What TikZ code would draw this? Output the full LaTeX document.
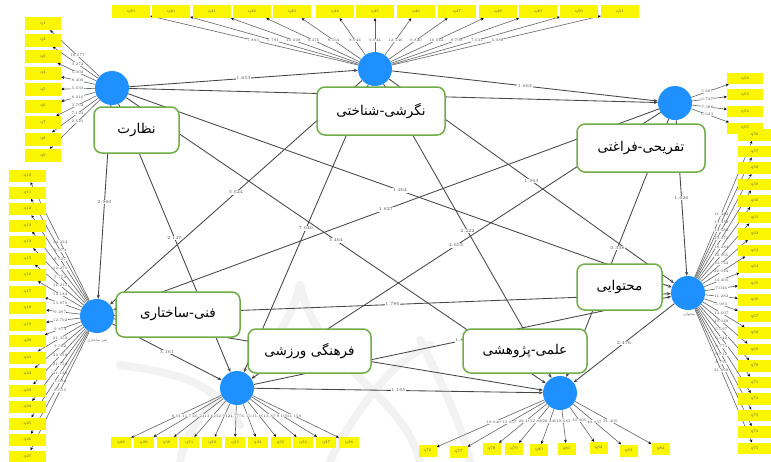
\documentclass[tikz,border=0pt]{standalone}
\usepackage{fontspec}
\newfontfamily\arabicfont[Script=Arabic]{DejaVu Sans}
\TeXXeTstate=1
\usetikzlibrary{arrows.meta}
\definecolor{lvblue}{RGB}{30,144,255}
\definecolor{lgreen}{RGB}{112,173,71}
\definecolor{indy}{RGB}{250,245,0}
\definecolor{pathgray}{RGB}{70,70,70}
\definecolor{linegray}{RGB}{100,100,100}
\pgfdeclarelayer{wm}
\pgfdeclarelayer{lines}
\pgfsetlayers{wm,lines,main}
\begin{document}
\begin{tikzpicture}[x=1pt,y=-1pt,
  lv/.style={circle,fill=lvblue,minimum size=34pt,inner sep=0pt},
  lblbox/.style={draw=lgreen,line width=1.5pt,rounded corners=8pt,fill=white,inner sep=0pt,font=\arabicfont\fontsize{13.5}{15}\selectfont},
  ind/.style={fill=indy,inner sep=0pt,font=\fontsize{3.8}{4}\selectfont,text=black!65},
  sp/.style={draw=pathgray,line width=0.85pt,-{Stealth[length=4pt,width=3.2pt]}},
  il/.style={draw=linegray,line width=0.6pt,-{Stealth[length=3pt,width=2.8pt,color=black]}},
  num/.style={fill=white,inner sep=0.3pt,font=\fontsize{3.8}{4.2}\selectfont,text=black!70},
  snum/.style={fill=white,inner sep=0.6pt,font=\fontsize{4.5}{5}\selectfont,text=black!70},
  tiny/.style={font=\arabicfont\fontsize{3.5}{4}\selectfont,text=black!60,inner sep=0pt},
  wmst/.style={draw=black!5,line width=8pt,line cap=round}
]
\useasboundingbox (0,0) rectangle (771,461);

% background and watermark
\begin{pgfonlayer}{wm}
\fill[white] (0,0) rectangle (771,461);
\draw[wmst] (180,461) .. controls (195,390) and (280,370) .. (300,285);
\draw[wmst] (300,285) .. controls (320,370) and (400,390) .. (420,461);
\draw[wmst] (120,365) .. controls (170,372) and (215,380) .. (240,425);
\draw[wmst] (420,340) .. controls (440,380) and (460,420) .. (470,461);
\draw[wmst] (330,461) .. controls (350,420) and (390,360) .. (430,345);
\end{pgfonlayer}

% latent variables
\node[lv] (A) at (112,88) {};
\node[lv] (B) at (375,69) {};
\node[lv] (C) at (675,103) {};
\node[lv] (D) at (97,316) {};
\node[lv] (E) at (688,293) {};
\node[lv] (F) at (237,388) {};
\node[lv] (G) at (560,393) {};

\node[tiny] (Dn) at (97,341) {\beginR فنی ساختاری\endR};
\node[tiny] (En) at (689,315) {\beginR محتوایی\endR};

% label boxes
\node[lblbox,minimum width=85pt,minimum height=46pt] (L1) at (136.5,130) {\beginR نظارت\endR};
\node[lblbox,minimum width=128pt,minimum height=48pt] (L2) at (381,111) {\beginR نگرشی-شناختی\endR};
\node[lblbox,minimum width=128pt,minimum height=48pt] (L3) at (641,148) {\beginR تفریحی-فراغتی\endR};
\node[lblbox,minimum width=124pt,minimum height=45pt] (L4) at (178,314.5) {\beginR فنی-ساختاری\endR};
\node[lblbox,minimum width=123pt,minimum height=44pt] (L5) at (309.5,351) {\beginR فرهنگی ورزشی\endR};
\node[lblbox,minimum width=85pt,minimum height=46pt] (L6) at (619.5,287) {\beginR محتوایی\endR};
\node[lblbox,minimum width=124pt,minimum height=44pt] (L7) at (525,351) {\beginR علمی-پژوهشی\endR};

% structural paths
\begin{pgfonlayer}{lines}
\draw[sp] (A) -- node[snum]{1.653} (B);
\draw[sp] (A) -- (C);
\draw[sp] (B) -- node[snum]{1.663} (C);
\draw[sp] (A) -- node[snum]{2.960} (D);
\draw[sp] (A) -- node[snum]{2.147} (F);
\draw[sp] (A) -- node[snum]{1.264} (E);
\draw[sp] (A) -- node[snum]{3.464} (G);
\draw[sp] (B) -- node[snum]{3.624} (D);
\draw[sp] (B) -- node[snum]{7.040} (F);
\draw[sp] (B) -- node[snum]{1.963} (E);
\draw[sp] (B) -- node[snum]{2.222} (G);
\draw[sp] (C) -- node[snum]{1.627} (D);
\draw[sp] (C) -- node[snum]{2.653} (F);
\draw[sp] (C) -- node[snum]{1.626} (E);
\draw[sp] (C) -- node[snum]{0.338} (G);
\draw[sp] (D) -- node[snum]{1.786} (E);
\draw[sp] (D) -- node[snum]{3.161} (F);
\draw[sp] (D) -- (G);
\draw[sp] (F) -- node[snum]{1.830} (E);
\draw[sp] (F) -- node[snum]{1.165} (G);
\draw[sp] (E) -- node[snum]{2.476} (G);
\end{pgfonlayer}

% indicators of A
\foreach \yy/\v [count=\i] in {23.5/10.677,40/3.272,56.5/5.002,73/8.400,89.5/5.033,106/8.216,122.5/3.762,139/7.124,155.5/2.621}{
  \node[ind,minimum width=36pt,minimum height=13pt] (a\i) at (43,\yy) {q\i};
  \begin{pgfonlayer}{lines}
  \draw[il] (A) -- (a\i);
  \path (A.center) -- (a\i.center) node[num,midway]{\v};
  \end{pgfonlayer}
}
% indicators of D
\foreach \v [count=\i from 0] in {14.232,9.274,8.527,12.276,5.752,11.215,12.184,13.879,9.297,12.792,9.874,21.352,9.582,22.658,21.758,21.128,3.094,8.610}{
  \pgfmathsetmacro{\yy}{176+16.5*\i}
  \pgfmathtruncatemacro{\q}{10+\i}
  \node[ind,minimum width=37pt,minimum height=12pt] (d\i) at (27.5,\yy) {q\q};
  \begin{pgfonlayer}{lines}
  \draw[il] (D) -- (d\i);
  \path (D.center) -- (d\i.center) node[num,pos=0.53]{\v};
  \end{pgfonlayer}
}
% indicators of F
\foreach \v [count=\i from 0] in {8.011,11.732,6.231,3.625,2.912,4.775,6.154,11.897,13.872,8.105,14.159}{
  \pgfmathsetmacro{\xx}{121+22.8*\i}
  \pgfmathtruncatemacro{\q}{28+\i}
  \node[ind,minimum width=20pt,minimum height=11pt] (f\i) at (\xx,442.5) {q\q};
  \begin{pgfonlayer}{lines}
  \draw[il] (F) -- (f\i);
  \path (F.center) -- (f\i.center) node[num,pos=0.51]{\v};
  \end{pgfonlayer}
}
% indicators of B
\foreach \xx/\v [count=\i from 39] in {131/7.803,171/5.791,212/16.608,252/9.476,292/8.564,335/8.944,375/9.944,416/12.546,457/9.820,498/16.062,538/8.709,579/7.631,620/6.088}{
  \node[ind,minimum width=38pt,minimum height=13pt] (b\i) at (\xx,11.5) {q\i};
  \begin{pgfonlayer}{lines}
  \draw[il] (B) -- (b\i);
  \path (B.center) -- (b\i.center) node[num,midway]{\v};
  \end{pgfonlayer}
}
% indicators of C
\foreach \yy/\v [count=\i from 52] in {78.5/5.807,94.5/6.727,111.5/7.388,128/6.623}{
  \node[ind,minimum width=36pt,minimum height=11pt] (c\i) at (745,\yy) {q\i};
  \begin{pgfonlayer}{lines}
  \draw[il] (C) -- (c\i);
  \path (C.center) -- (c\i.center) node[num,pos=0.46]{\v};
  \end{pgfonlayer}
}
% indicators of E
\foreach \v [count=\i from 0] in {11.382,13.432,14.682,23.472,18.284,22.965,24.742,26.044,14.405,7.026,11.282,5.983,14.607,10.048,5.697,9.842,8.774,9.912,8.791,21.868}{
  \pgfmathsetmacro{\yy}{135+16.5*\i}
  \pgfmathtruncatemacro{\q}{56+\i}
  \node[ind,minimum width=33pt,minimum height=11.5pt] (e\i) at (754.5,\yy) {q\q};
  \begin{pgfonlayer}{lines}
  \draw[il] (E) -- (e\i);
  \path (E.center) -- (e\i.center) node[num,midway]{\v};
  \end{pgfonlayer}
}
% indicators of G
\foreach \xx/\yy/\v [count=\i from 76] in {427.5/451/18.640,458.5/452/13.057,491.5/449/22.403,514/449/12.880,539/450/28.240,566.5/449/19.683,598.5/448/30.405,628.5/450.5/40.037,660.5/449/31.405}{
  \node[ind,minimum width=18pt,minimum height=12pt] (g\i) at (\xx,\yy) {q\i};
  \begin{pgfonlayer}{lines}
  \draw[il] (G) -- (g\i);
  \path (G.center) -- (g\i.center) node[num,midway]{\v};
  \end{pgfonlayer}
}
\end{tikzpicture}
\end{document}
